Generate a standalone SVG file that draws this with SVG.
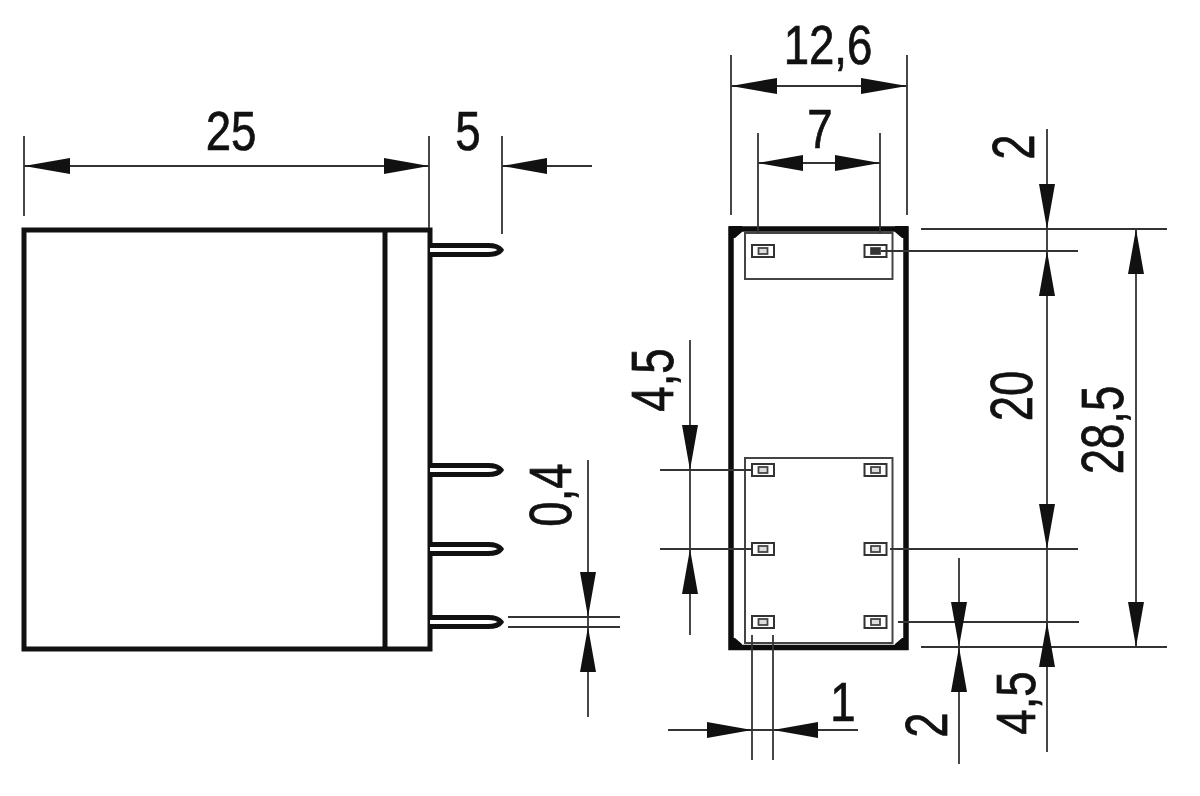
<svg xmlns="http://www.w3.org/2000/svg" width="1200" height="796" viewBox="0 0 1200 796">
<style>
text{font-family:"Liberation Sans",Arial,sans-serif;font-size:53px;fill:#111;stroke:#111;stroke-width:.7;text-anchor:middle}
.d{stroke:#333;stroke-width:1.8;fill:none}
.a{fill:#111;stroke:none}
.b{stroke:#111;stroke-width:5;fill:none}
.f{stroke:#0c0c0c;stroke-width:5.500;fill:none}
.t{stroke:#444;stroke-width:2;fill:none}
.p{stroke:#111;stroke-width:5;fill:#fff}
.s{stroke:#333;stroke-width:2;fill:#fff}
.g{stroke:#444;stroke-width:1.800;fill:#ddd}
</style>
<defs>
<g id="pad"><rect x="-11" y="-6" width="22" height="12" class="s"/><rect x="-4.500" y="-3" width="9" height="6" class="g"/></g>
<path id="pin" d="M0-4.500H58Q68-4.500 71 0Q68 4.500 58 4.500H0" class="p"/>
</defs>
<g id="side-view">
<rect x="24" y="230" width="406" height="419" class="b"/>
<line x1="385" y1="230" x2="385" y2="649" class="b"/>
<use href="#pin" x="430" y="250"/>
<use href="#pin" x="430" y="470"/>
<use href="#pin" x="430" y="549"/>
<use href="#pin" x="430" y="622"/>
</g>
<g id="front-view">
<rect x="745" y="233" width="147.500" height="46" class="t"/>
<rect x="745" y="458" width="147.500" height="185" class="t"/>
<rect x="731" y="229" width="175" height="418.500" class="f"/>
<path d="M729 226h13v6l-7 6h-6zM908 226h-13v6l7 6h6zM729 650h13v-6l-7-6h-6zM908 650h-13v-6l7-6h6z" fill="#0c0c0c"/>
<use href="#pad" x="763" y="251"/><use href="#pad" x="875.500" y="251"/>
<use href="#pad" x="763" y="470"/><use href="#pad" x="875.500" y="470"/>
<use href="#pad" x="763" y="549"/><use href="#pad" x="875.500" y="549"/>
<use href="#pad" x="763" y="622"/><use href="#pad" x="875.500" y="622"/>
<rect x="871" y="248" width="9" height="6" fill="#333"/>
</g>
<g id="connectors">
<path class="d" d="M24 136V216M429 136V228M502 136V234M24 166H429M502 166H592"/>
<path class="a" d="M24 166L70 158V174ZM429 166L384 158V174ZM502 166L547 158V174Z"/>
<path class="d" d="M731 55V215M907 55V215M758 133V233M880 133V233M731 86H907M758 163H880"/>
<path class="a" d="M731 86L777 78V94ZM907 86L861 78V94ZM758 163L803 155V171ZM880 163L835 155V171Z"/>
<path class="d" d="M921 229H1167M881 251H1078M921 647H1167M890 549H1078M898 622H1079M1047 129V752M1136 229V647M959 558V764"/>
<path class="a" d="M1047 229L1039 184H1055ZM1047 251L1039 296H1055ZM1047 549L1039 504H1055ZM1047 622L1039 667H1055ZM1136 229L1128 274H1144ZM1136 647L1128 602H1144ZM959 647L951 602H967ZM959 647L951 692H967Z"/>
<path class="d" d="M660 470H752M660 549H752M690 340V635"/>
<path class="a" d="M690 470L682 425H698ZM690 549L682 594H698Z"/>
<path class="d" d="M508 617H620M508 627H620M588 460V717"/>
<path class="a" d="M588 617L580 572H596ZM588 627L580 672H596Z"/>
<path class="d" d="M752 635V760M773 635V760M668 730H858"/>
<path class="a" d="M752 730L707 722V738ZM773 730L818 722V738Z"/>
</g>
<g id="labels">
<text transform="translate(231 150) scale(.86 1.030)">25</text>
<text transform="translate(468 150) scale(.86 1.030)">5</text>
<text transform="translate(828 64) scale(.86 1.030)">12,6</text>
<text transform="translate(820 148) scale(.86 1.030)">7</text>
<text transform="translate(843 721) scale(.86 1.030)">1</text>
<text transform="translate(1034 147) rotate(-90) scale(.86 1.120)">2</text>
<text transform="translate(1032 396) rotate(-90) scale(.86 1.120)">20</text>
<text transform="translate(1123 430) rotate(-90) scale(.86 1.100)">28,5</text>
<text transform="translate(673 380) rotate(-90) scale(.86 1.100)">4,5</text>
<text transform="translate(571 495) rotate(-90) scale(.86 1.100)">0,4</text>
<text transform="translate(1035 703) rotate(-90) scale(.86 1.050)">4,5</text>
<text transform="translate(947 725) rotate(-90) scale(.86 1.120)">2</text>
</g>
</svg>
